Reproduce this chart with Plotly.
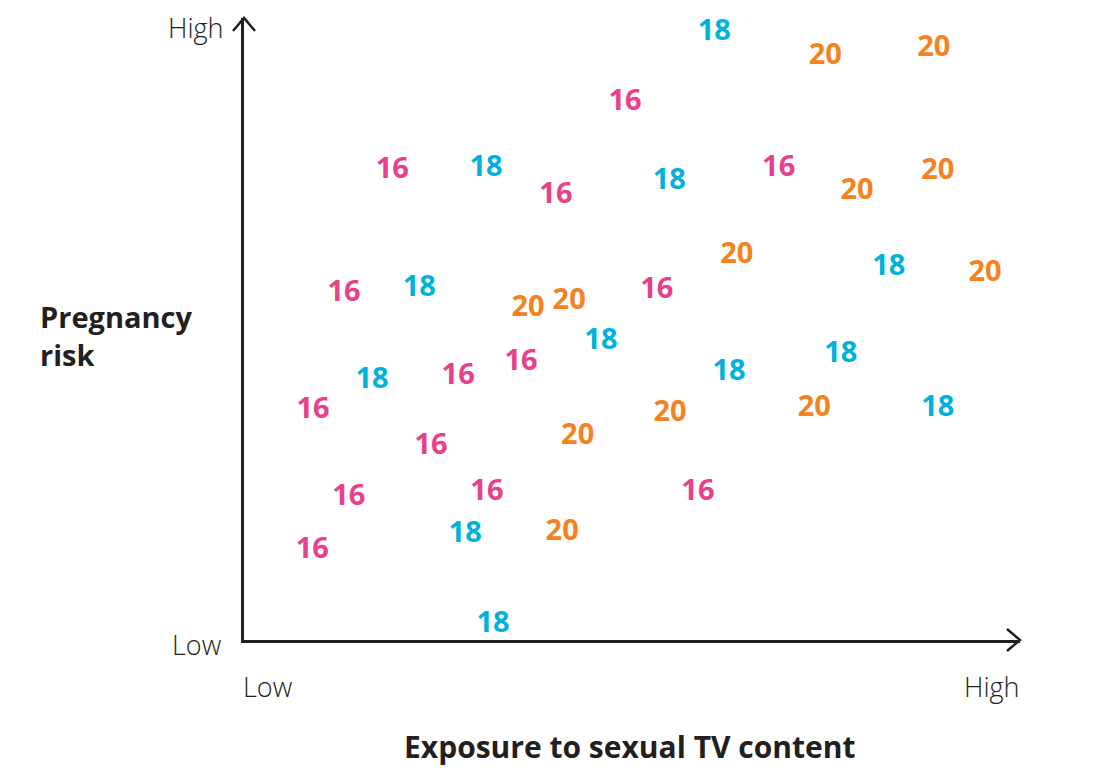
import plotly.graph_objects as go

# posições estimadas (0-100) de cada idade no plano exposição x risco
idade_16_x = [19.1, 12.9, 8.9, 13.5, 8.8, 27.6, 35.7, 24.1, 31.3, 40.2, 49.1, 68.9, 53.2, 58.5]
idade_16_y = [76.2, 56.4, 37.6, 23.5, 15.1, 43.1, 45.3, 31.8, 24.4, 72.2, 87.0, 76.4, 56.9, 24.4]

idade_18_x = [60.6, 31.2, 54.8, 22.6, 16.5, 46.0, 62.5, 76.9, 83.1, 89.4, 28.5, 32.1]
idade_18_y = [98.4, 76.4, 74.4, 57.1, 42.4, 48.7, 43.6, 46.6, 60.5, 37.9, 17.7, 3.1]

idade_20_x = [74.9, 88.9, 79.0, 89.4, 63.5, 95.5, 36.6, 41.9, 43.0, 54.9, 73.5, 41.0]
idade_20_y = [94.4, 95.8, 72.8, 76.0, 62.5, 59.6, 54.0, 55.1, 33.4, 37.1, 37.9, 18.0]

series = [
    ("16", idade_16_x, idade_16_y, "#E8408A"),
    ("18", idade_18_x, idade_18_y, "#00B2D9"),
    ("20", idade_20_x, idade_20_y, "#F5821F"),
]

FONTE = "Open Sans"
COR_EIXO = "#231F20"

# área do gráfico em pixels: x 244..1020, y 18..640 (776 x 622)
PW, PH = 776, 622

fig = go.Figure()
for rotulo, xs, ys, cor in series:
    fig.add_trace(go.Scatter(
        x=xs, y=ys,
        mode="text",
        text=[rotulo] * len(xs),
        textfont=dict(family=FONTE, size=29, color=cor, weight=700),
        hoverinfo="skip",
        showlegend=False,
        cliponaxis=False,
    ))

# setas abertas nas pontas dos eixos (coordenadas paper, sem recorte)
ax, ay = 11 / PW, 13 / PH
fig.add_shape(type="path", path=f"M {-ax} {1 - ay} L 0 1 L {ax} {1 - ay}",
              xref="paper", yref="paper", line=dict(color=COR_EIXO, width=2.5))
bx, by = 13 / PW, 11 / PH
fig.add_shape(type="path", path=f"M {1 - bx} {by} L 1 0 L {1 - bx} {-by}",
              xref="paper", yref="paper", line=dict(color=COR_EIXO, width=2.5))

label_font = dict(family=FONTE, size=27, color=COR_EIXO, weight=300)
fig.add_annotation(text="High", x=(226 - 244) / PW, y=(640 - 28) / PH, xref="paper", yref="paper",
                   xanchor="right", yanchor="middle", showarrow=False, font=label_font)
fig.add_annotation(text="Low", x=(224 - 244) / PW, y=(640 - 644) / PH, xref="paper", yref="paper",
                   xanchor="right", yanchor="middle", showarrow=False, font=label_font)
fig.add_annotation(text="Low", x=(241 - 244) / PW, y=(640 - 686) / PH, xref="paper", yref="paper",
                   xanchor="left", yanchor="middle", showarrow=False, font=label_font)
fig.add_annotation(text="High", x=(1022 - 244) / PW, y=(640 - 686) / PH, xref="paper", yref="paper",
                   xanchor="right", yanchor="middle", showarrow=False, font=label_font)

fig.add_annotation(text="<b>Pregnancy<br>risk</b>", x=(38 - 244) / PW, y=(640 - 335) / PH,
                   xref="paper", yref="paper", xanchor="left", yanchor="middle", align="left",
                   showarrow=False, font=dict(family=FONTE, size=29, color=COR_EIXO))
fig.add_annotation(text="<b>Exposure to sexual TV content</b>", x=(630 - 244) / PW,
                   y=(640 - 746) / PH, xref="paper", yref="paper", xanchor="center",
                   yanchor="middle", showarrow=False,
                   font=dict(family=FONTE, size=30, color=COR_EIXO))

fig.update_xaxes(range=[0, 100], showgrid=False, zeroline=False, showticklabels=False,
                 showline=True, linecolor=COR_EIXO, linewidth=2.5, ticks="")
# leve deslocamento para compensar o centro vertical do texto
fig.update_yaxes(range=[0.7, 100.7], showgrid=False, zeroline=False, showticklabels=False,
                 showline=True, linecolor=COR_EIXO, linewidth=2.5, ticks="")

fig.update_layout(
    width=1094, height=768,
    margin=dict(l=236, r=82, t=10, b=136),
    plot_bgcolor="white",
    paper_bgcolor="white",
    showlegend=False,
)

fig.write_html("out.html")
